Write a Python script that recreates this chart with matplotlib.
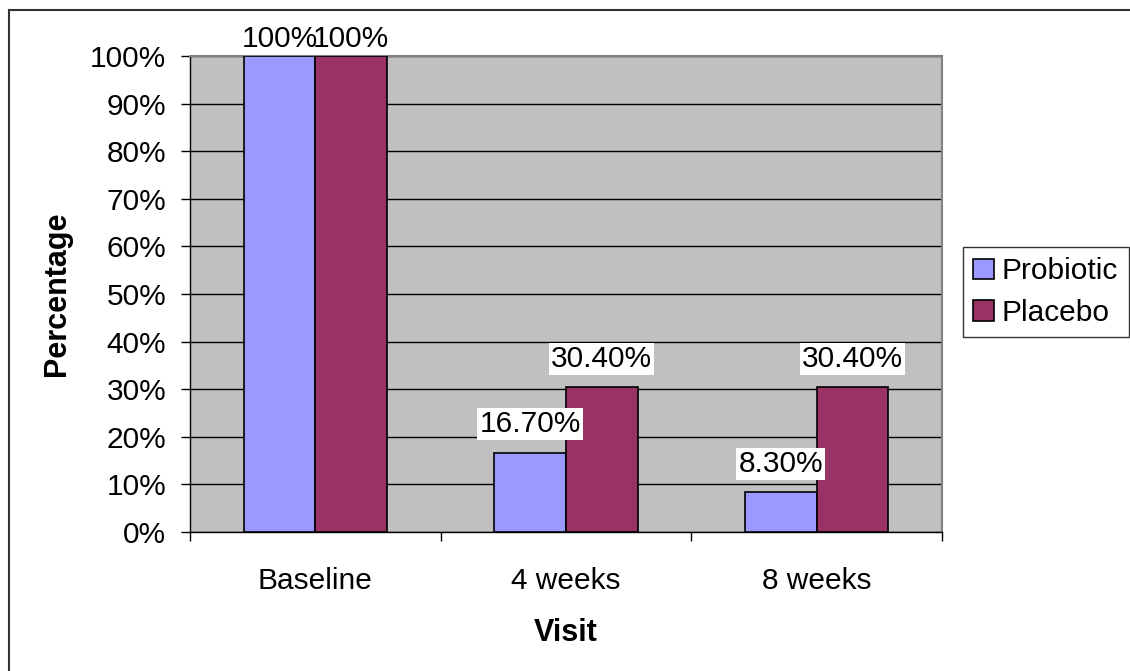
import matplotlib
matplotlib.use("Agg")
import matplotlib.pyplot as plt
from matplotlib.patches import Patch
from matplotlib.lines import Line2D
from matplotlib.ticker import MultipleLocator, FixedLocator, PercentFormatter
import numpy as np

plt.rcParams['font.family'] = ['Liberation Sans', 'DejaVu Sans']

categories = ["Baseline", "4 weeks", "8 weeks"]
series_names = ["Probiotic", "Placebo"]
probiotic = [100.0, 16.7, 8.3]
placebo = [100.0, 30.4, 30.4]
probiotic_labels = ["100%", "16.70%", "8.30%"]
placebo_labels = ["100%", "30.40%", "30.40%"]
colors = ["#9999FF", "#993366"]

FS = 21.5
W, H = 1130, 671
fig = plt.figure(figsize=(W / 100, H / 100), dpi=100)
ax = fig.add_axes([190 / W, 1 - 532 / H, 752 / W, 476 / H])
ax.set_facecolor("#C0C0C0")

x = np.arange(len(categories))
bw = 1 / 3.5
series = [probiotic, placebo]
labels = [probiotic_labels, placebo_labels]
for i, (vals, labs) in enumerate(zip(series, labels)):
    xs = x + (i - 0.5) * bw
    ax.bar(xs, vals, width=bw, color=colors[i], edgecolor="black",
           linewidth=1.2, zorder=3)
    for xi, v, lab in zip(xs, vals, labs):
        # labels at the top of the axis sit closer to their bars
        off = 6.5 if v >= 100 else 14.8
        ax.annotate(lab, (xi, v), xytext=(0, off), textcoords="offset points",
                    ha="center", va="baseline", fontsize=FS, zorder=5,
                    annotation_clip=False,
                    bbox=dict(facecolor="white", edgecolor="none", pad=1.5)
                    if v < 100 else None)

ax.set_xlim(-0.5, len(categories) - 0.5)
ax.set_ylim(0, 100)
ax.yaxis.set_major_locator(MultipleLocator(10))
ax.yaxis.set_major_formatter(PercentFormatter(decimals=0))
ax.grid(axis="y", color="black", linewidth=1, zorder=1)
ax.set_axisbelow(True)

ax.set_xticks(x)
ax.set_xticklabels(categories)
ax.xaxis.set_minor_locator(FixedLocator(np.arange(len(categories) + 1) - 0.5))
ax.tick_params(axis="x", which="major", length=0, pad=25, labelsize=FS)
ax.tick_params(axis="x", which="minor", length=6.5, width=1, color="black")
ax.tick_params(axis="y", length=6.5, width=1, color="black", pad=10.5, labelsize=FS)

for side in ("top", "right"):
    ax.spines[side].set_color("#808080")
    ax.spines[side].set_linewidth(1.5)
for side in ("left", "bottom"):
    ax.spines[side].set_color("black")
    ax.spines[side].set_linewidth(1)

ax.set_ylabel("Percentage", fontsize=22, fontweight="bold")
ax.yaxis.set_label_coords(-0.157, 0.5)
ax.set_xlabel("Visit", fontsize=22, fontweight="bold")
ax.xaxis.set_label_coords(0.5, -0.181)

handles = [Patch(facecolor=c, edgecolor="black", linewidth=1.2) for c in colors]
leg = fig.legend(handles, series_names, loc="upper left",
                 bbox_to_anchor=(963 / W, 1 - 247 / H), fontsize=FS,
                 frameon=True, fancybox=False, edgecolor="black",
                 handlelength=0.7, handleheight=0.7, handletextpad=0.25,
                 borderpad=0.35, labelspacing=0.45, borderaxespad=0)
leg.get_frame().set_linewidth(1)

# outer chart border
fig.add_artist(Line2D([9 / W, 1], [1 - 10 / H, 1 - 10 / H], color="#333333",
                      linewidth=1.5, transform=fig.transFigure))
fig.add_artist(Line2D([9 / W, 9 / W], [0, 1 - 10 / H], color="#333333",
                      linewidth=1.5, transform=fig.transFigure))

fig.savefig("out.png", dpi=100)
